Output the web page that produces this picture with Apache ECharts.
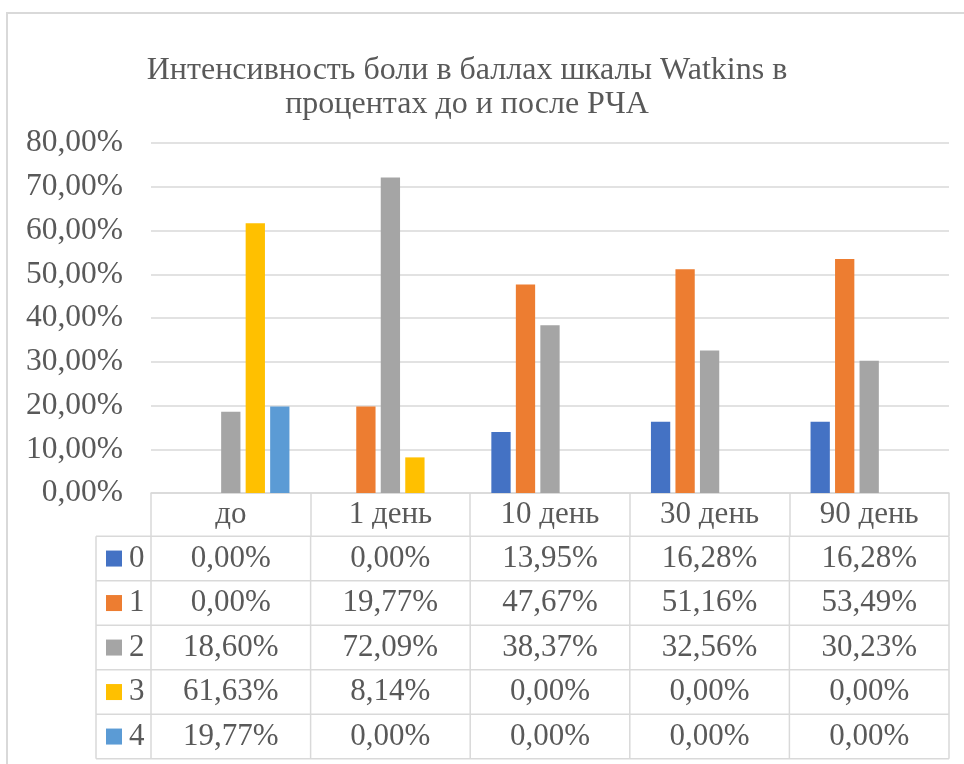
<!DOCTYPE html>
<html><head><meta charset="utf-8">
<script src="https://cdn.jsdelivr.net/npm/echarts@6/dist/echarts.min.js"></script>
<style>html,body{margin:0;padding:0;background:#fff}#c{width:964px;height:764px}</style>
</head><body><div id="c"></div>
<script>
const categories = ['до', '1 день', '10 день', '30 день', '90 день'];
const seriesNames = ['0', '1', '2', '3', '4'];
const s0 = [0.00, 0.00, 13.95, 16.28, 16.28];
const s1 = [0.00, 19.77, 47.67, 51.16, 53.49];
const s2 = [18.60, 72.09, 38.37, 32.56, 30.23];
const s3 = [61.63, 8.14, 0.00, 0.00, 0.00];
const s4 = [19.77, 0.00, 0.00, 0.00, 0.00];
const yTicks = [0, 10, 20, 30, 40, 50, 60, 70, 80];
const titleLines = ['Интенсивность боли в баллах шкалы Watkins в', 'процентах до и после РЧА'];

const allSeries = [s0, s1, s2, s3, s4];
const colors = ['#4472C4', '#ED7D31', '#A5A5A5', '#FFC000', '#5B9BD5'];
const FONT = '"Liberation Serif", "Times New Roman", serif';
const TXT = '#595959';
const LINE = '#d9d9d9';
const fmt = v => v.toFixed(2).replace('.', ',') + '%';

const chart = echarts.init(document.getElementById('c'), null, {renderer: 'canvas'});

const option = {
  backgroundColor: '#fff',
  animation: false,
  grid: {left: 151, right: 15, top: 143, bottom: 271, containLabel: false},
  xAxis: {
    type: 'category',
    data: categories,
    axisLine: {show: true, lineStyle: {color: LINE, width: 1.5}},
    axisTick: {show: true, length: 43, lineStyle: {color: LINE, width: 1.5}},
    axisLabel: {fontFamily: FONT, fontSize: 31, color: TXT, margin: 22, verticalAlign: 'middle'},
    splitLine: {show: false}
  },
  yAxis: {
    type: 'value',
    min: yTicks[0], max: yTicks[yTicks.length - 1], interval: yTicks[1] - yTicks[0],
    axisLine: {show: false}, axisTick: {show: false},
    axisLabel: {fontFamily: FONT, fontSize: 31.5, color: TXT, margin: 28, formatter: v => fmt(v)},
    splitLine: {lineStyle: {color: LINE, width: 1.5}}
  },
  series: allSeries.map((d, i) => ({
    name: seriesNames[i], type: 'bar', data: d,
    itemStyle: {color: colors[i]},
    barGap: '27%', barCategoryGap: '26.5%'
  }))
};
chart.setOption(option);

function buildGraphics() {
  const g = [];
  g.push({type: 'rect', shape: {x: 7, y: 13, width: 1000, height: 800},
    style: {fill: 'none', stroke: LINE, lineWidth: 2}, silent: true});
  titleLines.forEach((t, i) => g.push({type: 'text', x: 467, y: 71 + i * 34,
    style: {text: t, font: '32px ' + FONT, fill: TXT, textAlign: 'center', textVerticalAlign: 'middle'}}));

  const cx = categories.map((c, i) => chart.convertToPixel({xAxisIndex: 0}, i));
  const bw = cx[1] - cx[0];
  const y0 = chart.convertToPixel({yAxisIndex: 0}, 0);
  const xLeft = cx[0] - bw / 2, xRight = cx[cx.length - 1] + bw / 2;
  const headerH = 43.3, rowH = 44.5;
  const tTop = y0 + headerH;
  const tableLeft = 96;
  const nRows = allSeries.length;
  const tBottom = tTop + nRows * rowH;
  for (let k = 0; k <= nRows; k++) {
    const y = tTop + k * rowH;
    g.push({type: 'line', shape: {x1: tableLeft, y1: y, x2: xRight, y2: y}, style: {stroke: LINE, lineWidth: 1.5}});
  }
  const vx = [tableLeft, xLeft].concat(cx.map(c => c + bw / 2));
  vx.forEach(x => g.push({type: 'line', shape: {x1: x, y1: tTop, x2: x, y2: tBottom}, style: {stroke: LINE, lineWidth: 1.5}}));
  allSeries.forEach((d, k) => {
    const yc = tTop + k * rowH + rowH / 2;
    g.push({type: 'rect', shape: {x: 106, y: yc - 8, width: 16, height: 16}, style: {fill: colors[k]}});
    g.push({type: 'text', x: 129, y: yc, style: {text: seriesNames[k], font: '31px ' + FONT, fill: TXT, textAlign: 'left', textVerticalAlign: 'middle'}});
    d.forEach((v, i) => g.push({type: 'text', x: cx[i], y: yc,
      style: {text: fmt(v), font: '31px ' + FONT, fill: TXT, textAlign: 'center', textVerticalAlign: 'middle'}}));
  });
  chart.setOption({graphic: {elements: g}});
}
buildGraphics();
</script>
</body></html>
